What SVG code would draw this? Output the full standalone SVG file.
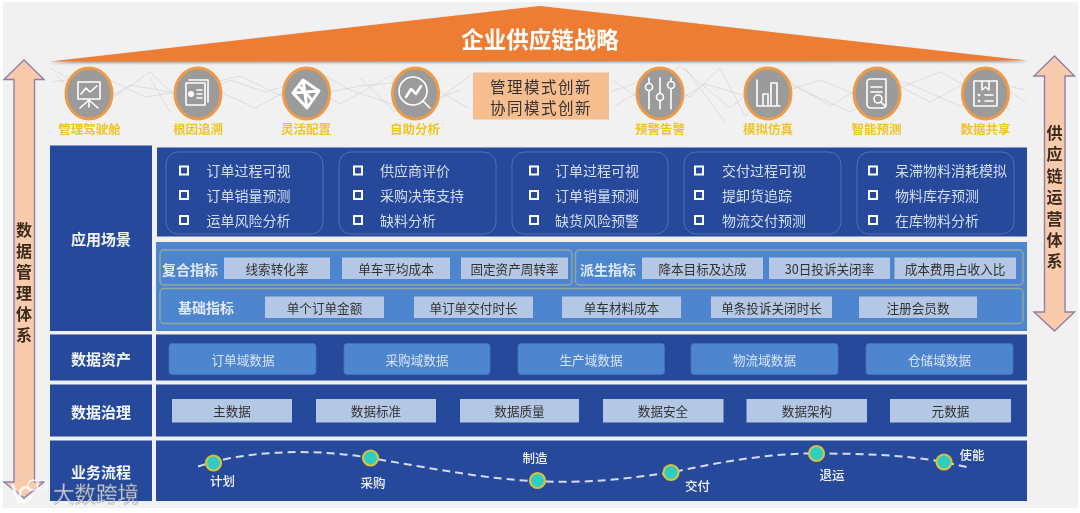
<svg xmlns="http://www.w3.org/2000/svg" width="1080" height="513" viewBox="0 0 1080 513">
<style>
text{font-family:"Noto Sans CJK SC","Noto Sans",sans-serif;text-anchor:middle;dominant-baseline:central}
.panel{fill:#25499b}
.side{font-size:15px;font-weight:700;fill:#f4f6fb}
.item{font-size:14px;fill:#d5def0;text-anchor:start}
.box{fill:none;stroke:#5470b0;stroke-width:1}
.bul{fill:#25499b;stroke:#fff;stroke-width:2}
.sub{fill:#4e86cf;stroke:#8fa89a;stroke-width:1.4}
.chip{fill:#b4c7e4}
.chipt{font-size:12.6px;fill:#333}
.head{font-size:14px;font-weight:700;fill:#dfe9f7}
.asset{fill:#4e86cf;stroke:#4272b8;stroke-width:.8}
.assett{font-size:12.6px;fill:#d8e4f5}
.flow{fill:none;stroke:#d5dced;stroke-width:2;stroke-dasharray:8 5}
.dot{fill:#2dcdc4;stroke:#d8c23a;stroke-width:2.2}
.fl{font-size:12.5px;font-weight:500;fill:#f2f4fa}
.circ{fill:#9b9b9b;stroke:#ed9a4a;stroke-width:3}
.ic{fill:none;stroke:#fff;stroke-width:1.6;stroke-linecap:round;stroke-linejoin:round}
.icb{fill:none;stroke:#fff;stroke-width:3;stroke-linejoin:round}
.icl{font-size:12.5px;font-weight:700;fill:#f0c428}
.arrow{fill:#f8cbad;stroke:#8f7fa8;stroke-width:1.4}
.vt{font-size:16px;font-weight:700;fill:#3a2a1c}
.net{fill:none;stroke:#cfcfcf;stroke-width:.6}
</style>
<defs>
<filter id="soft" x="-2%" y="-2%" width="104%" height="104%"><feGaussianBlur stdDeviation="0.35"/></filter>
<filter id="sh" x="-5%" y="-20%" width="110%" height="140%"><feDropShadow dx="0" dy="1.500" stdDeviation="1" flood-color="#555" flood-opacity=".6"/></filter>
</defs>
<rect width="1080" height="513" fill="#fff"/>
<g filter="url(#soft)">
<rect x="3" y="2" width="1075" height="506" fill="#f1f1f1"/>

<g id="network">
<path class="net" d="M50 68L75 82L110 100L150 72L185 106L230 80L265 92L300 82L340 104L390 76L440 98L470 76"/>
<path class="net" d="M52 82L100 75L145 97L210 87L255 108L320 73L350 90L410 110L460 90"/>
<path class="net" d="M55 74L90 110L130 85L170 92L240 76L290 100L360 86L420 80L468 108"/>
<path class="net" d="M610 92L650 78L690 97L720 68L745 116L790 82L830 106L880 76L930 102L975 78L1025 90"/>
<path class="net" d="M615 106L680 66L730 108L770 75L850 112L905 82L960 106L1000 85L1026 102"/>
<path class="net" d="M612 80L660 112L705 84L760 100L820 80L870 100L940 72L1010 110"/>
<path class="net" d="M685 68L725 122M870 78L905 114M960 72L985 112M150 78L170 112M360 78L395 112"/>
</g>

<g id="strategy">
<polygon points="540,6 1027,60.500 50,61.500" fill="#ed7d31" filter="url(#sh)"/>
<text x="540" y="38" font-size="22.500" font-weight="700" fill="#fff">企业供应链战略</text>
</g>

<g id="data-mgmt">
<polygon class="arrow" points="24,60 44,79.500 34.500,79.500 34.500,482 44,482 24,498 4,482 14,482 14,79.500 4,79.500"/>
<text class="vt" x="24" y="229">数</text><text class="vt" x="24" y="250">据</text><text class="vt" x="24" y="271">管</text><text class="vt" x="24" y="292">理</text><text class="vt" x="24" y="313">体</text><text class="vt" x="24" y="334">系</text>
</g>
<g id="supply-ops">
<polygon class="arrow" points="1054.500,56 1074.500,76 1065,76 1065,312 1074.500,312 1054.500,331 1034,312 1044.500,312 1044.500,76 1034,76"/>
<text class="vt" x="1054.500" y="132">供</text><text class="vt" x="1054.500" y="153">应</text><text class="vt" x="1054.500" y="174.500">链</text><text class="vt" x="1054.500" y="196">运</text><text class="vt" x="1054.500" y="217.500">营</text><text class="vt" x="1054.500" y="239">体</text><text class="vt" x="1054.500" y="260">系</text>
</g>

<g id="icon-cockpit"><ellipse class="circ" cx="89" cy="93.500" rx="23" ry="25.500"/><path class="ic" d="M78 82H100V99H78ZM89 99V107M89 100L80 108M89 100L98 108M81 94L86 88L90 92L97 86"/><text class="icl" x="89.500" y="128.500">管理驾驶舱</text></g>
<g id="icon-root"><ellipse class="circ" cx="198" cy="93.500" rx="23" ry="25.500"/><path class="ic" d="M186 83H205V105H186ZM189 80H208V102M197 90H202M197 94H202M197 98H202"/><circle cx="191" cy="94" r="3" fill="#fff"/><text class="icl" x="198" y="128.500">根因追溯</text></g>
<g id="icon-config"><ellipse class="circ" cx="306.500" cy="93.500" rx="23" ry="25.500"/><path class="icb" d="M303 80L319 91L307 108L293 93ZM303 80L307 108M293 93L319 91M299 86L312 100"/><text class="icl" x="306" y="128.500">灵活配置</text></g>
<g id="icon-analysis"><ellipse class="circ" cx="415.500" cy="93.500" rx="23" ry="25.500"/><circle class="ic" cx="413" cy="91" r="14"/><path class="ic" d="M423 101L430 108"/><path class="ic" style="stroke-width:2.500" d="M406 97L411 89L416 94L421 86"/><text class="icl" x="415" y="128.500">自助分析</text></g>

<g id="innovation">
<rect x="473" y="72.500" width="136" height="47" fill="#f6be8f"/>
<text x="541" y="86" font-size="15.500" letter-spacing="1.500" fill="#333">管理模式创新</text>
<text x="541" y="107" font-size="15.500" letter-spacing="1.500" fill="#333">协同模式创新</text>
</g>

<g id="icon-alert"><ellipse class="circ" cx="660" cy="93.500" rx="23" ry="25.500"/><path class="ic" d="M649 78V83M649 91V109M660 78V93M660 101V109M671 78V81M671 89V109"/><circle class="ic" cx="649" cy="87" r="3.500"/><circle class="ic" cx="660" cy="97" r="3.500"/><circle class="ic" cx="671" cy="85" r="3.500"/><text class="icl" x="660" y="128.500">预警告警</text></g>
<g id="icon-sim"><ellipse class="circ" cx="768" cy="93.500" rx="23" ry="25.500"/><path class="ic" d="M757 80V106H780M763 106V94H768V106M771 106V83H777V106"/><text class="icl" x="768" y="128.500">模拟仿真</text></g>
<g id="icon-predict"><ellipse class="circ" cx="877" cy="93.500" rx="23" ry="25.500"/><path class="ic" d="M867 82Q867 79 871 79H886V105Q886 108 882 108H871Q867 108 867 104ZM871 87H882M871 92H882"/><circle class="ic" cx="878" cy="99" r="4"/><path class="ic" d="M881 102L885 106"/><text class="icl" x="876.500" y="128.500">智能预测</text></g>
<g id="icon-share"><ellipse class="circ" cx="985.500" cy="93.500" rx="23" ry="25.500"/><path class="ic" d="M974 81H997V106H974ZM982 81V90L985.500 87L989 90V81M985 95H993M985 101H993"/><circle cx="979" cy="95" r="1.300" fill="#fff"/><circle cx="979" cy="101" r="1.300" fill="#fff"/><text class="icl" x="985.500" y="128.500">数据共享</text></g>

<g id="row-app">
<rect class="panel" x="50" y="145.500" width="102" height="185.500"/>
<text class="side" x="101" y="238.500">应用场景</text>
<rect class="panel" x="157" y="147.500" width="870" height="89"/>
<rect class="box" x="166" y="152" width="157" height="82" rx="12"/>
<rect class="box" x="339" y="152" width="157" height="82" rx="12"/>
<rect class="box" x="512" y="152" width="156" height="82" rx="12"/>
<rect class="box" x="684" y="152" width="157" height="82" rx="12"/>
<rect class="box" x="857" y="152" width="157" height="82" rx="12"/>
<rect class="bul" x="180" y="166.500" width="8" height="8"/><rect class="bul" x="180" y="191" width="8" height="8"/><rect class="bul" x="180" y="216" width="8" height="8"/>
<rect class="bul" x="354" y="166.500" width="8" height="8"/><rect class="bul" x="354" y="191" width="8" height="8"/><rect class="bul" x="354" y="216" width="8" height="8"/>
<rect class="bul" x="530" y="166.500" width="8" height="8"/><rect class="bul" x="530" y="191" width="8" height="8"/><rect class="bul" x="530" y="216" width="8" height="8"/>
<rect class="bul" x="695" y="166.500" width="8" height="8"/><rect class="bul" x="695" y="191" width="8" height="8"/><rect class="bul" x="695" y="216" width="8" height="8"/>
<rect class="bul" x="869" y="166.500" width="8" height="8"/><rect class="bul" x="869" y="191" width="8" height="8"/><rect class="bul" x="869" y="216" width="8" height="8"/>
<text class="item" x="206.500" y="170">订单过程可视</text><text class="item" x="206.500" y="194.500">订单销量预测</text><text class="item" x="206.500" y="219.500">运单风险分析</text>
<text class="item" x="380" y="170">供应商评价</text><text class="item" x="380" y="194.500">采购决策支持</text><text class="item" x="380" y="219.500">缺料分析</text>
<text class="item" x="555" y="170">订单过程可视</text><text class="item" x="555" y="194.500">订单销量预测</text><text class="item" x="555" y="219.500">缺货风险预警</text>
<text class="item" x="722" y="170">交付过程可视</text><text class="item" x="722" y="194.500">提卸货追踪</text><text class="item" x="722" y="219.500">物流交付预测</text>
<text class="item" x="895" y="170">呆滞物料消耗模拟</text><text class="item" x="895" y="194.500">物料库存预测</text><text class="item" x="895" y="219.500">在库物料分析</text>
</g>

<g id="indicators">
<rect x="156" y="242" width="871" height="89" fill="#4e86cf"/>
<rect class="sub" x="160" y="250" width="412" height="35" rx="4"/>
<rect class="sub" x="575.500" y="250" width="447.500" height="35" rx="4"/>
<rect class="sub" x="160" y="288.500" width="863" height="35" rx="4"/>
<text class="head" x="190" y="268.500">复合指标</text>
<text class="head" x="608" y="268.500">派生指标</text>
<text class="head" x="206" y="306.500">基础指标</text>
<rect class="chip" x="224" y="257.500" width="106" height="21.500"/><text class="chipt" x="277" y="268">线索转化率</text>
<rect class="chip" x="342" y="257.500" width="108" height="21.500"/><text class="chipt" x="396" y="268">单车平均成本</text>
<rect class="chip" x="461" y="257.500" width="107" height="21.500"/><text class="chipt" x="514.500" y="268">固定资产周转率</text>
<rect class="chip" x="642" y="257.500" width="121" height="21.500"/><text class="chipt" x="702.500" y="268">降本目标及达成</text>
<rect class="chip" x="769" y="257.500" width="121" height="21.500"/><text class="chipt" x="829.500" y="268">30日投诉关闭率</text>
<rect class="chip" x="894.500" y="257.500" width="121.500" height="21.500"/><text class="chipt" x="955" y="268">成本费用占收入比</text>
<rect class="chip" x="265" y="296.500" width="119" height="21.500"/><text class="chipt" x="324.500" y="307">单个订单金额</text>
<rect class="chip" x="414" y="296.500" width="119" height="21.500"/><text class="chipt" x="473.500" y="307">单订单交付时长</text>
<rect class="chip" x="562" y="296.500" width="119" height="21.500"/><text class="chipt" x="621.500" y="307">单车材料成本</text>
<rect class="chip" x="711" y="296.500" width="121" height="21.500"/><text class="chipt" x="771.500" y="307">单条投诉关闭时长</text>
<rect class="chip" x="859" y="296.500" width="118" height="21.500"/><text class="chipt" x="918" y="307">注册会员数</text>
</g>

<g id="row-assets">
<rect class="panel" x="50" y="334.500" width="102" height="46"/><rect class="panel" x="156" y="334.500" width="871" height="46"/>
<text class="side" x="101" y="358">数据资产</text>
<rect class="asset" x="169" y="343.500" width="147" height="31" rx="3"/><text class="assett" x="243" y="359">订单域数据</text>
<rect class="asset" x="344" y="343.500" width="146" height="31" rx="3"/><text class="assett" x="417" y="359">采购域数据</text>
<rect class="asset" x="518" y="343.500" width="146.500" height="31" rx="3"/><text class="assett" x="591" y="359">生产域数据</text>
<rect class="asset" x="691" y="343.500" width="147" height="31" rx="3"/><text class="assett" x="764.500" y="359">物流域数据</text>
<rect class="asset" x="866" y="343.500" width="147" height="31" rx="3"/><text class="assett" x="939.500" y="359">仓储域数据</text>
</g>

<g id="row-governance">
<rect class="panel" x="50" y="384.500" width="102" height="52"/><rect class="panel" x="156" y="384.500" width="871" height="52"/>
<text class="side" x="101" y="411">数据治理</text>
<rect class="chip" x="172" y="399" width="120" height="23.500"/><text class="chipt" x="232" y="410.500">主数据</text>
<rect class="chip" x="316" y="399" width="120" height="23.500"/><text class="chipt" x="376" y="410.500">数据标准</text>
<rect class="chip" x="460" y="399" width="119" height="23.500"/><text class="chipt" x="519.500" y="410.500">数据质量</text>
<rect class="chip" x="603" y="399" width="120.500" height="23.500"/><text class="chipt" x="663" y="410.500">数据安全</text>
<rect class="chip" x="746.500" y="399" width="120.500" height="23.500"/><text class="chipt" x="807" y="410.500">数据架构</text>
<rect class="chip" x="890" y="399" width="121" height="23.500"/><text class="chipt" x="950.500" y="410.500">元数据</text>
</g>

<g id="row-process">
<rect class="panel" x="50" y="440.500" width="102" height="60.500"/><rect class="panel" x="156" y="440.500" width="871" height="60.500"/>
<text class="side" x="101" y="471">业务流程</text>
<text class="fl" x="222.500" y="480">计划</text>
<text class="fl" x="373" y="482.500">采购</text>
<text class="fl" x="535" y="457.500">制造</text>
<text class="fl" x="697.500" y="485">交付</text>
<text class="fl" x="832" y="474">退运</text>
<text class="fl" x="972" y="454">使能</text>
</g>

<g id="connectors">
<path class="flow" d="M198 466.500C250 449 320 449 370.500 458C430 468 490 480 537.500 481C590 484 630 478 671 472.500C720 462 770 453 816.500 453.500C860 453.500 905 455 944 462L971 468"/>
</g>
<g id="process-nodes">
<ellipse class="dot" cx="213.500" cy="463" rx="7.500" ry="7.500"/>
<ellipse class="dot" cx="370.500" cy="458" rx="7.500" ry="7.500"/>
<ellipse class="dot" cx="537.500" cy="480.500" rx="7.500" ry="7.500"/>
<ellipse class="dot" cx="671" cy="472.500" rx="7.500" ry="7.500"/>
<ellipse class="dot" cx="816.500" cy="453.500" rx="7.500" ry="7.500"/>
<ellipse class="dot" cx="944" cy="462" rx="7.500" ry="7.500"/>
</g>

<g id="watermark" opacity=".8">
<path d="M12 484L18 500Q26 505 33 495M18 504L21 490Q26 484 31 491" fill="none" stroke="#fff" stroke-width="3"/>
<ellipse cx="33" cy="485" rx="5" ry="5" fill="none" stroke="#fff" stroke-width="1.500"/>
<ellipse cx="42" cy="485" rx="5" ry="5" fill="none" stroke="#fff" stroke-width="1.500"/>
<text x="96" y="492.500" font-size="21.500" fill="#e8ecf4" stroke="#777" stroke-width=".4">大数跨境</text>
</g>
</g>
</svg>
